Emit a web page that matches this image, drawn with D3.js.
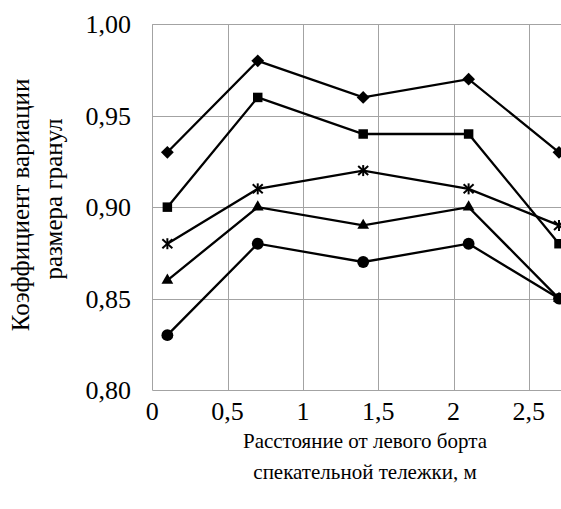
<!DOCTYPE html>
<html>
<head>
<meta charset="utf-8">
<script src="https://cdn.jsdelivr.net/npm/d3@7"></script>
<style>
  html, body { margin: 0; padding: 0; background: #fff; }
</style>
</head>
<body>
<div id="chart"></div>
<script>
// Chart data
const positions = [0.1, 0.7, 1.4, 2.1, 2.7];
const diamondValues = [0.93, 0.98, 0.96, 0.97, 0.93];
const squareValues = [0.90, 0.96, 0.94, 0.94, 0.88];
const starValues = [0.88, 0.91, 0.92, 0.91, 0.89];
const triangleValues = [0.86, 0.90, 0.89, 0.90, 0.85];
const circleValues = [0.83, 0.88, 0.87, 0.88, 0.85];
const xTicks = [0, 0.5, 1, 1.5, 2, 2.5];
const yTicks = [0.80, 0.85, 0.90, 0.95, 1.00];

const seriesList = [
  { name: 'diamond', values: diamondValues },
  { name: 'square', values: squareValues },
  { name: 'star', values: starValues },
  { name: 'triangle', values: triangleValues },
  { name: 'circle', values: circleValues }
];

const width = 561;
const height = 509;
const margin = { left: 152.3, top: 24.3, bottom: 390 };
const serifFont = "'Liberation Serif'";

const svg = d3.select('#chart')
  .append('svg')
  .attr('width', width)
  .attr('height', height);

const x = d3.scaleLinear().domain([0, 2.7]).range([margin.left, 559]);
const y = d3.scaleLinear().domain([0.80, 1.00]).range([margin.bottom, margin.top]);

const fmt = d => d.toString().replace('.', ',');

// Grid lines
const grid = svg.append('g').attr('stroke', '#a3a3a3').attr('stroke-width', 1);
yTicks.forEach(t => {
  grid.append('line')
    .attr('x1', margin.left).attr('x2', width)
    .attr('y1', Math.round(y(t)) + 0.5).attr('y2', Math.round(y(t)) + 0.5);
});
xTicks.forEach(t => {
  grid.append('line')
    .attr('x1', Math.round(x(t)) + 0.5).attr('x2', Math.round(x(t)) + 0.5)
    .attr('y1', margin.top).attr('y2', margin.bottom);
});

// Y tick labels
svg.append('g')
  .selectAll('text')
  .data(yTicks)
  .enter()
  .append('text')
  .attr('x', 131)
  .attr('y', d => y(d) + 9)
  .attr('text-anchor', 'end')
  .attr('font-family', serifFont)
  .attr('font-size', 26)
  .text(d => d.toFixed(2).replace('.', ','));

// X tick labels
svg.append('g')
  .selectAll('text')
  .data(xTicks)
  .enter()
  .append('text')
  .attr('x', d => x(d))
  .attr('y', 420)
  .attr('text-anchor', 'middle')
  .attr('font-family', serifFont)
  .attr('font-size', 26)
  .text(d => fmt(d));

// Axis titles
const xTitle = svg.append('text')
  .attr('text-anchor', 'middle')
  .attr('font-family', serifFont)
  .attr('font-size', 21);
xTitle.append('tspan').attr('x', 365).attr('y', 448).text('Расстояние от левого борта');
xTitle.append('tspan').attr('x', 365).attr('y', 479).text('спекательной тележки, м');

const yTitle = svg.append('text')
  .attr('text-anchor', 'middle')
  .attr('transform', 'translate(0,205) rotate(-90)')
  .attr('font-family', serifFont)
  .attr('font-size', 25);
yTitle.append('tspan').attr('x', 0).attr('y', 29).text('Коэффициент вариации');
yTitle.append('tspan').attr('x', 6).attr('y', 62).text('размера гранул');

// Lines
const line = d3.line()
  .x((d, i) => x(positions[i]))
  .y(d => y(d));

svg.append('g')
  .selectAll('path')
  .data(seriesList)
  .enter()
  .append('path')
  .attr('d', d => line(d.values))
  .attr('fill', 'none')
  .attr('stroke', '#000')
  .attr('stroke-width', 2.3);

// Markers
const symbolFor = {
  diamond: d3.symbol().type(d3.symbolDiamond2).size(105),
  square: d3.symbol().type(d3.symbolSquare).size(90),
  triangle: d3.symbol().type(d3.symbolTriangle).size(60),
  circle: d3.symbol().type(d3.symbolCircle).size(110)
};

seriesList.forEach(s => {
  const g = svg.append('g');
  s.values.forEach((v, i) => {
    const cx = x(positions[i]);
    const cy = y(v);
    if (s.name === 'star') {
      const m = g.append('g')
        .attr('transform', `translate(${cx},${cy})`)
        .attr('stroke', '#000')
        .attr('stroke-width', 2);
      m.append('line').attr('x1', -5).attr('y1', -4.5).attr('x2', 5).attr('y2', 4.5);
      m.append('line').attr('x1', -5).attr('y1', 4.5).attr('x2', 5).attr('y2', -4.5);
      m.append('line').attr('x1', 0).attr('y1', -5.5).attr('x2', 0).attr('y2', 5.5);
    } else {
      g.append('path')
        .attr('d', symbolFor[s.name]())
        .attr('transform', `translate(${cx},${cy})`)
        .attr('fill', '#000');
    }
  });
});
</script>
</body>
</html>
